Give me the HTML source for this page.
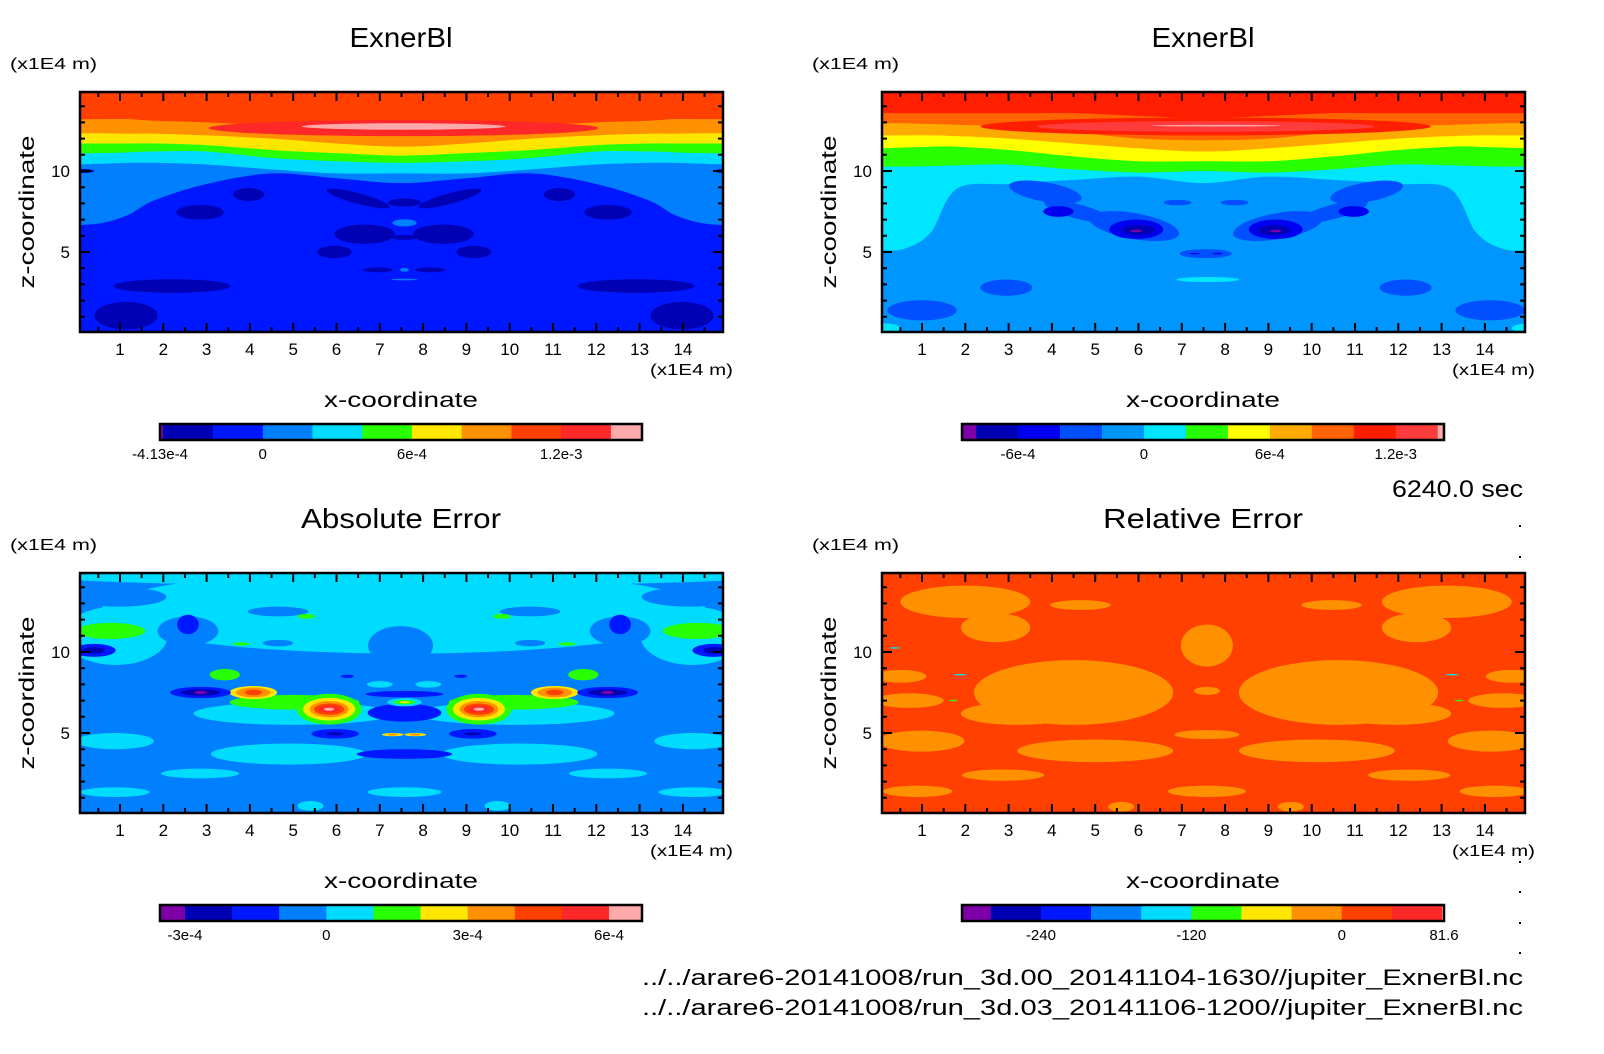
<!DOCTYPE html>
<html><head><meta charset="utf-8">
<style>
html,body{margin:0;padding:0;background:#fff;}
svg{display:block;}
text{font-family:"Liberation Sans",sans-serif;fill:#000;}
</style></head>
<body>
<svg id="fig" width="1604" height="1054" viewBox="0 0 1604 1054" xmlns="http://www.w3.org/2000/svg">
<rect x="0" y="0" width="1604" height="1054" fill="#fff"/>
</svg>
<script>
// ---------- palettes ----------
const palA=['#7f00a8','#0000b4','#0018ff','#0080ff','#00dcff','#28ff00','#ffe600','#ff9100','#ff4000','#ff2828','#ffaaaa'];
const palB=['#7f00a8','#0000b4','#0000f0','#0050ff','#0096ff','#00e6ff','#28ff00','#ffff00','#ffaa00','#ff6400','#ff1e00','#ff3c3c','#ffaaaa'];

// ---------- top-left ExnerBl (run 00) ----------
const tlBoundX=[0,0.6,1.2,1.8,3,4.5,6,7.5,9,10.5,12,13.2,13.8,14.4,15];
const tlBoundZ=[
 [6.65,6.8,7.3,8.2,9.2,9.85,9.55,9.25,9.55,9.85,9.2,8.2,7.3,6.8,6.65],
 [10.4,10.45,10.5,10.5,10.4,10.1,9.85,9.85,9.85,10.1,10.4,10.5,10.5,10.45,10.4],
 [11.1,11.1,11.15,11.2,11.2,10.8,10.6,10.5,10.6,10.8,11.2,11.2,11.15,11.1,11.1],
 [11.7,11.7,11.7,11.7,11.6,11.3,11.1,10.95,11.1,11.3,11.6,11.7,11.7,11.7,11.7],
 [12.33,12.33,12.3,12.3,12.2,12.0,11.7,11.5,11.7,12.0,12.2,12.3,12.3,12.33,12.33],
 [13.2,13.2,13.2,13.1,13.0,12.8,12.6,12.5,12.6,12.8,13.0,13.1,13.2,13.2,13.2]];
const tlBandColors=[3,4,5,6,7,8];
const tlBase=2;
// [x, z, rx, rz, colourIndex, mirrored, angle]
const tlBlobs=[
 [1.14,1.07,0.73,0.85,1,1,0],[2.2,2.9,1.35,0.42,1,1,0],[2.85,7.45,0.55,0.45,1,1,0],
 [3.97,8.55,0.36,0.4,1,1,0],[6.5,8.3,0.75,0.33,1,1,15],[7.57,8.05,0.38,0.25,1,0,0],
 [6.65,6.1,0.7,0.6,1,1,0],[5.95,5.0,0.4,0.38,1,1,0],[7.57,5.9,0.3,0.15,1,0,0],
 [7.57,6.8,0.28,0.22,3,0,0],[6.95,3.9,0.35,0.15,1,1,0],[7.57,3.9,0.1,0.12,3,0,0],
 [7.57,3.3,0.3,0.05,3,0,0],[0.15,10.0,0.25,0.12,1,1,0],
 [7.55,12.65,4.5,0.5,9,0,0],[7.55,12.75,2.35,0.2,10,0,0]];
const tlCbBounds=[-4.13e-4,-4e-4,-2e-4,0,2e-4,4e-4,6e-4,8e-4,1e-3,1.2e-3,1.4e-3,1.525e-3];
const tlCbTicks=[-4.13e-4,0,6e-4,1.2e-3];
const tlCbLabels=['-4.13e-4','0','6e-4','1.2e-3'];

// ---------- top-right ExnerBl (run 03) ----------
const trBoundX=[0,0.6,1.2,1.8,3,4.5,6,7.5,9,10.5,12,13.2,13.8,14.4,15];
const trBoundZ=[
 [5.1,5.2,6.2,8.9,9.2,9.45,9.65,9.25,9.65,9.45,9.2,8.9,6.2,5.2,5.1],
 [10.27,10.27,10.3,10.35,10.4,10.1,9.9,10.0,9.9,10.1,10.4,10.35,10.3,10.27,10.27],
 [11.4,11.45,11.5,11.5,11.3,10.9,10.6,10.6,10.6,10.9,11.3,11.5,11.5,11.45,11.4],
 [12.2,12.2,12.2,12.15,12.0,11.7,11.4,11.2,11.4,11.7,12.0,12.15,12.2,12.2,12.2],
 [12.95,12.95,12.9,12.85,12.75,12.4,12.0,11.9,12.0,12.4,12.75,12.85,12.9,12.95,12.95],
 [13.57,13.57,13.57,13.57,13.57,13.57,13.4,13.26,13.4,13.57,13.57,13.57,13.57,13.57,13.57]];
const trBandColors=[5,6,7,8,9,10];
const trBase=4;
const trBlobs=[
 [3.85,8.7,0.85,0.6,3,1,10],[4.6,7.5,0.8,0.45,3,1,15],[5.9,6.6,1.05,0.8,3,1,10],
 [4.15,7.5,0.35,0.33,2,1,0],[5.95,6.4,0.62,0.6,2,1,0],[6.0,6.35,0.38,0.3,1,1,0],
 [5.95,6.3,0.13,0.08,0,1,0],[2.95,2.8,0.6,0.5,3,1,0],[1.0,1.4,0.8,0.62,3,1,0],
 [6.9,8.05,0.32,0.17,3,1,0],[7.55,4.9,0.6,0.28,3,0,0],[7.3,4.9,0.12,0.05,2,1,0],
 [7.6,3.3,0.72,0.16,5,0,0],[0.1,0.3,0.4,0.3,5,1,0],
 [7.55,12.75,5.2,0.55,10,0,0],[7.55,12.75,3.9,0.33,11,0,0],[7.8,12.8,1.5,0.05,12,0,0]];
const trCbBounds=[-8.67e-4,-8e-4,-6e-4,-4e-4,-2e-4,0,2e-4,4e-4,6e-4,8e-4,1e-3,1.2e-3,1.4e-3,1.43e-3];
const trCbTicks=[-6e-4,0,6e-4,1.2e-3];
const trCbLabels=['-6e-4','0','6e-4','1.2e-3'];

// ---------- bottom-left Absolute Error ----------
const blBase=3;
const blBlobs=[
 [7.55,14.6,8,0.5,4,0,0],[7.55,12.5,7,2.6,4,0,0],[0.9,11.0,1.2,1.8,4,1,0],
 [0.97,13.4,1.1,0.6,3,1,0],[2.57,11.3,0.7,0.9,3,1,0],[4.65,12.5,0.7,0.3,3,1,0],
 [7.48,10.4,0.75,1.2,3,0,0],[2.95,9.2,0.8,0.35,3,1,0],[4.65,10.55,0.35,0.2,3,1,0],
 [5.0,6.2,2.3,0.7,4,1,0],
 [0.88,4.5,0.9,0.5,4,1,0],[4.9,3.7,1.8,0.65,4,1,0],[2.85,2.5,0.9,0.3,4,1,0],
 [7.57,1.35,0.85,0.3,4,0,0],[0.88,1.35,0.8,0.3,4,1,0],[5.4,0.5,0.3,0.3,4,1,0],
 [0.78,11.3,0.8,0.5,5,1,0],[5.3,12.2,0.2,0.15,5,1,0],[3.8,10.5,0.2,0.1,5,1,0],
 [2.57,11.7,0.25,0.6,2,1,0],[0.4,10.1,0.5,0.4,2,1,0],[0.4,10.1,0.25,0.2,1,1,0],
 [3.42,8.6,0.35,0.35,5,1,0],[5.03,6.9,1.5,0.45,5,1,0],
 [4.08,7.5,0.55,0.4,6,1,0],[4.08,7.5,0.4,0.3,7,1,0],[4.08,7.5,0.2,0.17,8,1,0],
 [5.83,6.47,0.75,0.95,5,1,0],[5.83,6.47,0.6,0.7,6,1,0],[5.83,6.47,0.45,0.5,7,1,0],
 [5.83,6.47,0.35,0.35,8,1,0],[5.83,6.47,0.25,0.2,9,1,0],[5.83,6.47,0.12,0.1,10,1,0],
 [2.86,7.5,0.7,0.35,2,1,0],[2.86,7.5,0.45,0.2,1,1,0],[2.86,7.5,0.15,0.1,0,1,0],
 [7.57,6.25,0.85,0.55,2,0,0],[7.57,7.4,0.9,0.2,2,0,0],[7.57,6.9,0.4,0.25,4,0,0],
 [7.57,6.9,0.25,0.14,5,0,0],[7.57,6.9,0.12,0.06,6,0,0],[7.0,8.0,0.3,0.2,4,1,0],
 [6.25,8.5,0.15,0.1,2,1,0],[5.97,4.95,0.55,0.3,2,1,0],[5.97,4.95,0.2,0.1,1,1,0],
 [7.57,3.7,1.1,0.3,2,0,0],[7.3,4.9,0.25,0.1,6,1,0],[7.3,4.9,0.12,0.06,7,1,0]];
const blCbBounds=[-3.53e-4,-3e-4,-2e-4,-1e-4,0,1e-4,2e-4,3e-4,4e-4,5e-4,6e-4,6.7e-4];
const blCbTicks=[-3e-4,0,3e-4,6e-4];
const blCbLabels=['-3e-4','0','3e-4','6e-4'];

// ---------- bottom-right Relative Error ----------
const brBase=8;
const brBlobs=[
 [2.0,13.1,1.5,1.0,7,1,0],[2.7,11.5,0.8,0.9,7,1,0],[4.66,12.9,0.7,0.3,7,1,0],
 [7.58,10.4,0.6,1.3,7,0,0],[4.5,7.5,2.3,2.0,7,1,0],[3.2,6.2,1.3,0.7,7,1,0],
 [0.7,7.0,0.8,0.45,7,1,0],[0.5,8.5,0.6,0.4,7,1,0],
 [5.0,3.9,1.8,0.7,7,1,0],[0.98,4.5,1.0,0.65,7,1,0],[2.87,2.4,0.95,0.35,7,1,0],
 [7.58,1.4,0.9,0.35,7,0,0],[0.9,1.4,0.8,0.35,7,1,0],[7.58,4.9,0.75,0.28,7,0,0],
 [5.6,0.45,0.3,0.3,7,1,0],[7.58,7.6,0.3,0.25,7,0,0],
 [0.37,10.25,0.12,0.05,4,0,0],[1.88,8.6,0.15,0.05,4,1,0],[1.72,7.0,0.1,0.05,5,1,0]];
const brCbBounds=[-303,-280,-240,-200,-160,-120,-80,-40,0,40,80,81.6];
const brCbTicks=[-240,-120,0,81.6];
const brCbLabels=['-240','-120','0','81.6'];

const xTickLabels=['1','2','3','4','5','6','7','8','9','10','11','12','13','14'];
const zTickVals=[5,10];

// ---------- rendering ----------
const NS='http://www.w3.org/2000/svg';
const svg=document.getElementById('fig');
function mk(tag,attrs,parent){const e=document.createElementNS(NS,tag);for(const k in attrs)e.setAttribute(k,attrs[k]);(parent||svg).appendChild(e);return e;}
function txt(s,attrs,parent){const e=mk('text',attrs,parent);e.textContent=s;return e;}

const PX0=76.7, PXU=43.3, PZ0=333, PZU=16.2, MIRROR=15.12;
const PL=80, PR=723, PT=92, PB=332;

function smooth(pts){
  let d='M'+pts[0][0]+','+pts[0][1];
  for(let i=0;i<pts.length-1;i++){
    const p0=pts[i-1]||pts[i],p1=pts[i],p2=pts[i+1],p3=pts[i+2]||p2;
    const c1=[p1[0]+(p2[0]-p0[0])/6,p1[1]+(p2[1]-p0[1])/6];
    const c2=[p2[0]-(p3[0]-p1[0])/6,p2[1]-(p3[1]-p1[1])/6];
    d+=' C'+c1[0]+','+c1[1]+' '+c2[0]+','+c2[1]+' '+p2[0]+','+p2[1];
  }
  return d;
}

function drawPanel(id,ox,oy,title,pal,base,bx,bz,bandCols,blobs,cbB,cbT,cbL,cbX0,cbX1){
  const px=x=>ox+PX0+PXU*x, pz=z=>oy+PZ0-PZU*z;
  const g=mk('g',{});
  
  
  const cp=mk('clipPath',{id:id+'-clip'},g);
  mk('rect',{x:ox+PL,y:oy+PT,width:PR-PL,height:PB-PT},cp);
  const field=mk('g',{'clip-path':'url(#'+id+'-clip)'},g);
  
  
  const baseRect=mk('rect',{x:ox+PL,y:oy+PT,width:PR-PL,height:PB-PT,fill:pal[base]},field);
  
  
  if(bz){
    bz.forEach((row,k)=>{
      const pts=row.map((z,i)=>[px(bx[i]),pz(z)]);
      const d=smooth(pts)+' L'+px(bx[bx.length-1])+','+(oy+PT-5)+' L'+px(bx[0])+','+(oy+PT-5)+' Z';
      const p=mk('path',{d:d,fill:pal[bandCols[k]]},field);
      
      
    });
  }
  blobs.forEach(b=>{
    const xs=b[5]?[b[0],MIRROR-b[0]]:[b[0]];
    xs.forEach((x,j)=>{
      const cx=px(x),cy=pz(b[1]),ang=(j===1?-b[6]:b[6]);
      const e=mk('ellipse',{cx:cx,cy:cy,rx:b[2]*PXU,ry:b[3]*PZU,fill:pal[b[4]],transform:'rotate('+ang+' '+cx+' '+cy+')'},field);
      
      
    });
  });
  const fr=mk('rect',{x:ox+PL,y:oy+PT,width:PR-PL,height:PB-PT,fill:'none',stroke:'#000','stroke-width':2.5},g);
  
  
  let td='';
  for(let i=1;i<=29;i++){const x=px(i*0.5);const L=(i%2===0)?9:5;
    td+='M'+x+','+(oy+PB)+'v'+(-L)+'M'+x+','+(oy+PT)+'v'+L;}
  for(let z=1;z<=14;z++){const y=pz(z);const L=(z%5===0)?10:5;
    td+='M'+(ox+PL)+','+y+'h'+L+'M'+(ox+PR)+','+y+'h'+(-L);}
  const tk=mk('path',{d:td,stroke:'#000','stroke-width':2,fill:'none'},g);
  
  
  xTickLabels.forEach((s,i)=>{
    const t=txt(s,{x:px(i+1),y:oy+355,'font-size':17,'text-anchor':'middle'},g);
    
    
  });
  zTickVals.forEach(z=>{
    const t=txt(String(z),{x:ox+70,y:pz(z)+6,'font-size':17,'text-anchor':'end'},g);
    
    
  });
  const ti=txt(title,{x:ox+401,y:oy+47,'font-size':28,'text-anchor':'middle',textLength:title.length>8?200:103,lengthAdjust:'spacingAndGlyphs'},g);
  
  
  const zu=txt('(x1E4 m)',{x:ox+10,y:oy+69,'font-size':16,textLength:87,lengthAdjust:'spacingAndGlyphs'},g);
  
  
  const xu=txt('(x1E4 m)',{x:ox+650,y:oy+375,'font-size':16,textLength:83,lengthAdjust:'spacingAndGlyphs'},g);
  
  
  const xt=txt('x-coordinate',{x:ox+401,y:oy+407,'font-size':21,'text-anchor':'middle',textLength:154,lengthAdjust:'spacingAndGlyphs'},g);
  
  
  const zt=txt('z-coordinate',{x:0,y:0,'font-size':21,'text-anchor':'middle',textLength:153,lengthAdjust:'spacingAndGlyphs',transform:'translate('+(ox+34)+','+(oy+212)+') rotate(-90)'},g);
  
  
  const cb=mk('g',{},g);
  
  
  const cs=v=>cbX0+(v-cbB[0])/(cbB[cbB.length-1]-cbB[0])*(cbX1-cbX0);
  const cy0=oy+424, ch=16;
  for(let i=0;i<cbB.length-1;i++){
    const r=mk('rect',{x:cs(cbB[i]),y:cy0,width:cs(cbB[i+1])-cs(cbB[i])+0.3,height:ch,fill:pal[i]},cb);
    
    
  }
  const co=mk('rect',{x:cbX0,y:cy0,width:cbX1-cbX0,height:ch,fill:'none',stroke:'#000','stroke-width':2.5},cb);
  
  
  cbT.forEach((v,i)=>{
    const t=txt(cbL[i],{x:cs(v),y:oy+459,'font-size':15,'text-anchor':'middle'},cb);
    
    
  });
}

drawPanel('top-left',0,0,'ExnerBl',palA,tlBase,tlBoundX,tlBoundZ,tlBandColors,tlBlobs,tlCbBounds,tlCbTicks,tlCbLabels,160,642);
drawPanel('top-right',802,0,'ExnerBl',palB,trBase,trBoundX,trBoundZ,trBandColors,trBlobs,trCbBounds,trCbTicks,trCbLabels,962,1444);
drawPanel('bottom-left',0,481,'Absolute Error',palA,blBase,null,null,null,blBlobs,blCbBounds,blCbTicks,blCbLabels,160,642);
drawPanel('bottom-right',802,481,'Relative Error',palA,brBase,null,null,null,brBlobs,brCbBounds,brCbTicks,brCbLabels,962,1444);

const tm=txt('6240.0 sec',{x:1523,y:497,'font-size':24,'text-anchor':'end',textLength:131,lengthAdjust:'spacingAndGlyphs'});


const f1=txt('../../arare6-20141008/run_3d.00_20141104-1630//jupiter_ExnerBl.nc',{x:1523,y:985,'font-size':22,'text-anchor':'end',textLength:881,lengthAdjust:'spacingAndGlyphs'});


const f2=txt('../../arare6-20141008/run_3d.03_20141106-1200//jupiter_ExnerBl.nc',{x:1523,y:1015,'font-size':22,'text-anchor':'end',textLength:881,lengthAdjust:'spacingAndGlyphs'});


[526,557,862,892,923,953].forEach(y=>{
  const d=mk('rect',{x:1519,y:y-1,width:2,height:2,fill:'#000'});
  
  
});
</script>
</body></html>
